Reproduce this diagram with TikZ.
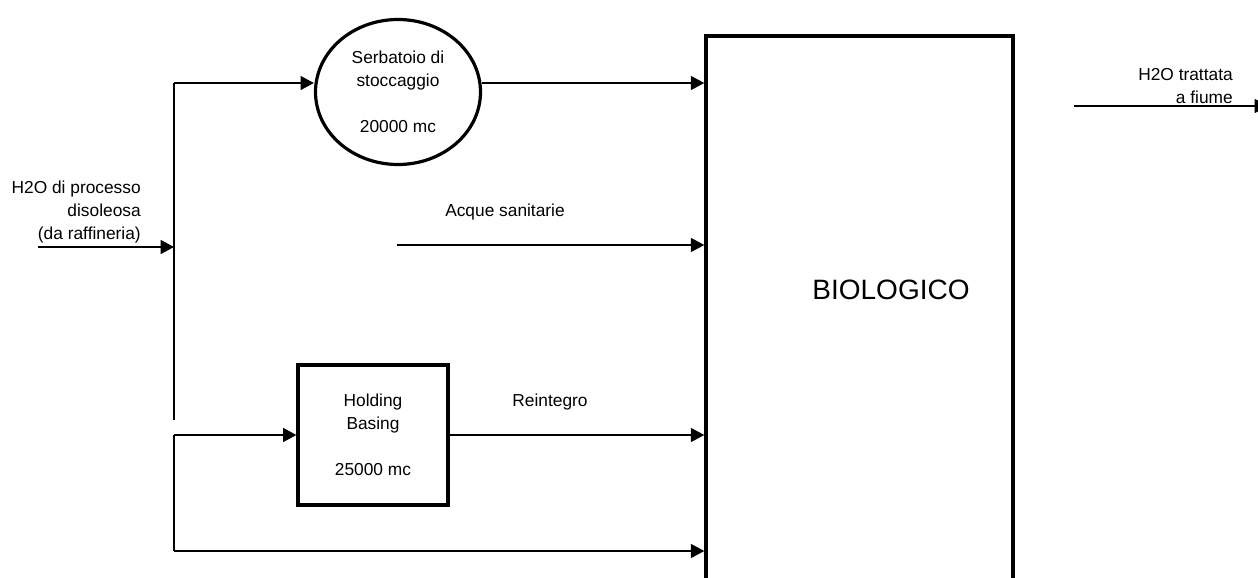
\documentclass[tikz,border=0pt]{standalone}
\usepackage{fontspec}
\setmainfont{Liberation Sans}
\usetikzlibrary{arrows.meta,shapes.geometric,positioning}
\tikzset{
  flow/.style={
    line width=0.9pt,
    -{Triangle[length=10pt,width=10.5pt]}
  },
  pipe/.style={
    line width=0.9pt
  },
  tankshape/.style={
    draw,
    ellipse,
    line width=2.4pt,
    minimum width=123.75pt,
    minimum height=108.75pt,
    align=center,
    inner sep=0pt
  },
  basin/.style={
    draw,
    shape=rectangle,
    line width=2.4pt,
    minimum width=112.5pt,
    minimum height=105pt,
    align=center,
    inner sep=0pt
  },
  plant/.style={
    draw,
    shape=rectangle,
    line width=2.6pt,
    minimum width=230.25pt,
    minimum height=453pt,
    inner sep=0pt
  },
  lbl/.style={
    inner sep=0pt
  }
}

\begin{document}
\begin{tikzpicture}[x=0.75pt,y=-0.75pt,
    every node/.style={font=\fontsize{13pt}{17.25pt}\selectfont}]
    \useasboundingbox (0,0) rectangle (1258,578);
    \clip (0,0) rectangle (1258,578);
    \def\jx{174}
    % blocks
    \node[tankshape] (tank) at (398,92) {Serbatoio di\\stoccaggio\\[17pt]20000 mc};
    \node[basin] (hold) at (373,435) {Holding\\Basing\\[17pt]25000 mc};
    \node[plant] (bio) at (859.5,338) {};
    \node[lbl, font=\fontsize{21pt}{25pt}\selectfont] (bioname) at (891,290) {BIOLOGICO};
    % left manifold
    \coordinate (jTop) at (\jx,83);
    \coordinate (jBreak) at (\jx,420);
    \coordinate (jMid) at (\jx,435);
    \coordinate (jBot) at (\jx,551);
    \coordinate (inStart) at (38,247);
    \coordinate (sanStart) at (397,245);
    \coordinate (outStart) at (1074,106);
    \coordinate (outEnd) at (1268,106);
    \draw[pipe] (jTop) -- (jBreak);
    \draw[pipe] (jMid) -- (jBot);
    \draw[flow] (inStart) -- (inStart -| jTop);
    \draw[flow] (jTop) -- (jTop -| tank.west);
    \draw[flow] (tank.east |- jTop) -- (jTop -| bio.west);
    \draw[flow] (sanStart) -- (sanStart -| bio.west);
    \draw[flow] (jMid) -- (hold.west);
    \draw[flow] (hold.east) -- (hold.east -| bio.west);
    \draw[flow] (jBot) -- (jBot -| bio.west);
    \draw[flow] (outStart) -- (outEnd);
    % labels
    \node[lbl, anchor=east, align=right] (lblIn) at (141,212) {H2O di processo\\disoleosa\\(da raffineria)};
    \node[lbl] (lblSan) at (505,212) {Acque sanitarie};
    \node[lbl] (lblRei) at (550,402) {Reintegro};
    \node[lbl, anchor=east, align=right] (lblOut) at (1233,86) {H2O trattata\\a fiume};
\end{tikzpicture}
\end{document}
